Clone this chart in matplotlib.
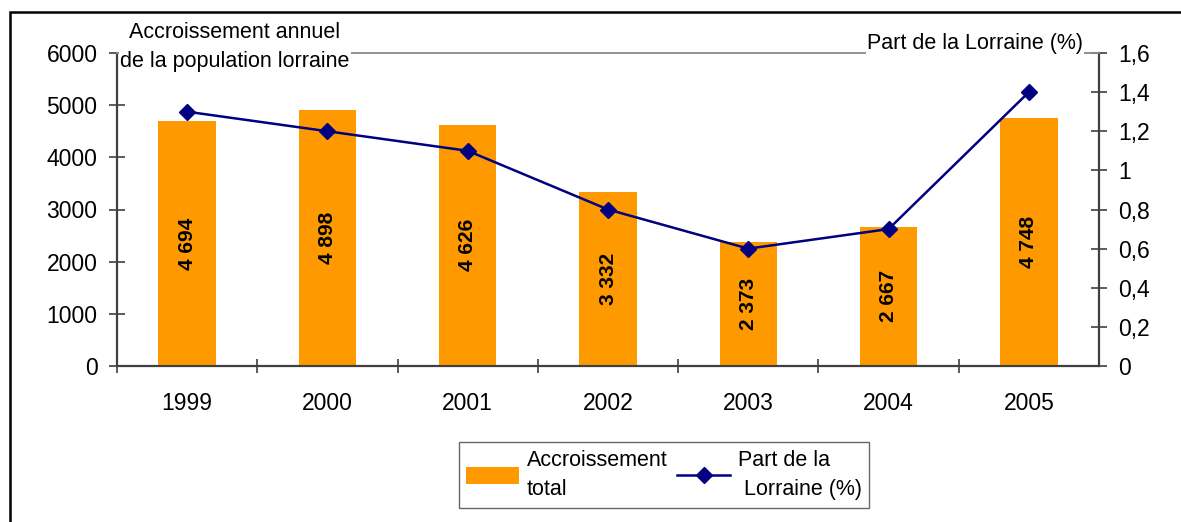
import matplotlib.pyplot as plt
from matplotlib.patches import Rectangle
from matplotlib.ticker import FuncFormatter, FixedLocator

plt.rcParams['font.family'] = ['Liberation Sans', 'DejaVu Sans']

# Accroissement annuel de la population lorraine
years = ['1999', '2000', '2001', '2002', '2003', '2004', '2005']
accroissement = [4694, 4898, 4626, 3332, 2373, 2667, 4748]
part_lorraine = [1.3, 1.2, 1.1, 0.8, 0.6, 0.7, 1.4]
left_ticks = [0, 1000, 2000, 3000, 4000, 5000, 6000]
right_ticks = [0, 0.2, 0.4, 0.6, 0.8, 1.0, 1.2, 1.4, 1.6]

W, H = 1181, 522
fig = plt.figure(figsize=(W / 100, H / 100), dpi=100)
ax = fig.add_axes([117 / W, 1 - 366 / H, (1099 - 117) / W, (366 - 53) / H])
ax2 = ax.twinx()

axis_col = '#404040'
x = list(range(len(years)))
ax.bar(x, accroissement, width=0.41, color='#FF9900', zorder=2,
       label='Accroissement\ntotal')
for xi, v in zip(x, accroissement):
    txt = f'{v:,}'.replace(',', ' ')
    ax.text(xi, v / 2, txt, rotation=90, ha='center', va='center',
            fontsize=15, fontweight='bold', zorder=3)

ax2.plot(x, part_lorraine, color='#000080', lw=1.8, marker='D',
         markersize=8, label='Part de la\n Lorraine (%)', zorder=4)

ax.set_xlim(-0.5, len(years) - 0.5)
ax.set_ylim(0, 6000)
ax2.set_ylim(0, 1.6)

ax.set_yticks(left_ticks)
ax2.yaxis.set_major_locator(FixedLocator(right_ticks))
ax2.yaxis.set_major_formatter(FuncFormatter(
    lambda v, p: f'{v:.1f}'.rstrip('0').rstrip('.').replace('.', ',')))

ax.set_xticks(x)
ax.set_xticklabels(years)
ax.set_xticks([i - 0.5 for i in range(len(years))], minor=True)
ax.tick_params(axis='x', which='major', length=0, pad=19, labelsize=16.5)
ax.tick_params(axis='x', which='minor', direction='inout', length=10,
               width=1.2, color=axis_col)
ax.tick_params(axis='y', direction='inout', length=12, width=1.2,
               color=axis_col, pad=8, labelsize=16.5)
ax2.tick_params(axis='y', direction='inout', length=12, width=1.2,
                color=axis_col, pad=8, labelsize=16.5)

for a in (ax, ax2):
    for s in ('left', 'right', 'bottom'):
        a.spines[s].set_color(axis_col)
        a.spines[s].set_linewidth(1.6)
    a.spines['top'].set_color('#909090')
    a.spines['top'].set_linewidth(1.2)
ax.spines['right'].set_visible(False)
ax2.spines['left'].set_visible(False)
ax2.spines['bottom'].set_visible(False)

# axis titles sitting on the top border
fig.text(235 / W, 1 - 47 / H, 'Accroissement annuel\nde la population lorraine',
         ha='center', va='center', fontsize=15.5, linespacing=1.45,
         bbox=dict(facecolor='white', edgecolor='none', pad=1), zorder=10)
fig.text(975 / W, 1 - 43 / H, 'Part de la Lorraine (%)',
         ha='center', va='center', fontsize=15.5,
         bbox=dict(facecolor='white', edgecolor='none', pad=1), zorder=10)

h1, l1 = ax.get_legend_handles_labels()
h2, l2 = ax2.get_legend_handles_labels()
leg = fig.legend(h1 + h2, l1 + l2, loc='center', ncol=2,
                 bbox_to_anchor=(664 / W, 1 - 475 / H), fontsize=15.5,
                 frameon=True, fancybox=False, edgecolor='#404040',
                 handlelength=2.45, handleheight=0.8, handletextpad=0.37,
                 columnspacing=0.45, borderpad=0.35, borderaxespad=0)
leg.get_frame().set_linewidth(1.0)
for t in leg.get_texts():
    t.set_linespacing(1.55)

# outer frame of the figure
fig.patches.append(Rectangle((10 / W, -0.1), 1.2, 1.1 - 12 / H,
                             transform=fig.transFigure, fill=False,
                             edgecolor='black', lw=1.8))

fig.savefig('out.png', dpi=100)
